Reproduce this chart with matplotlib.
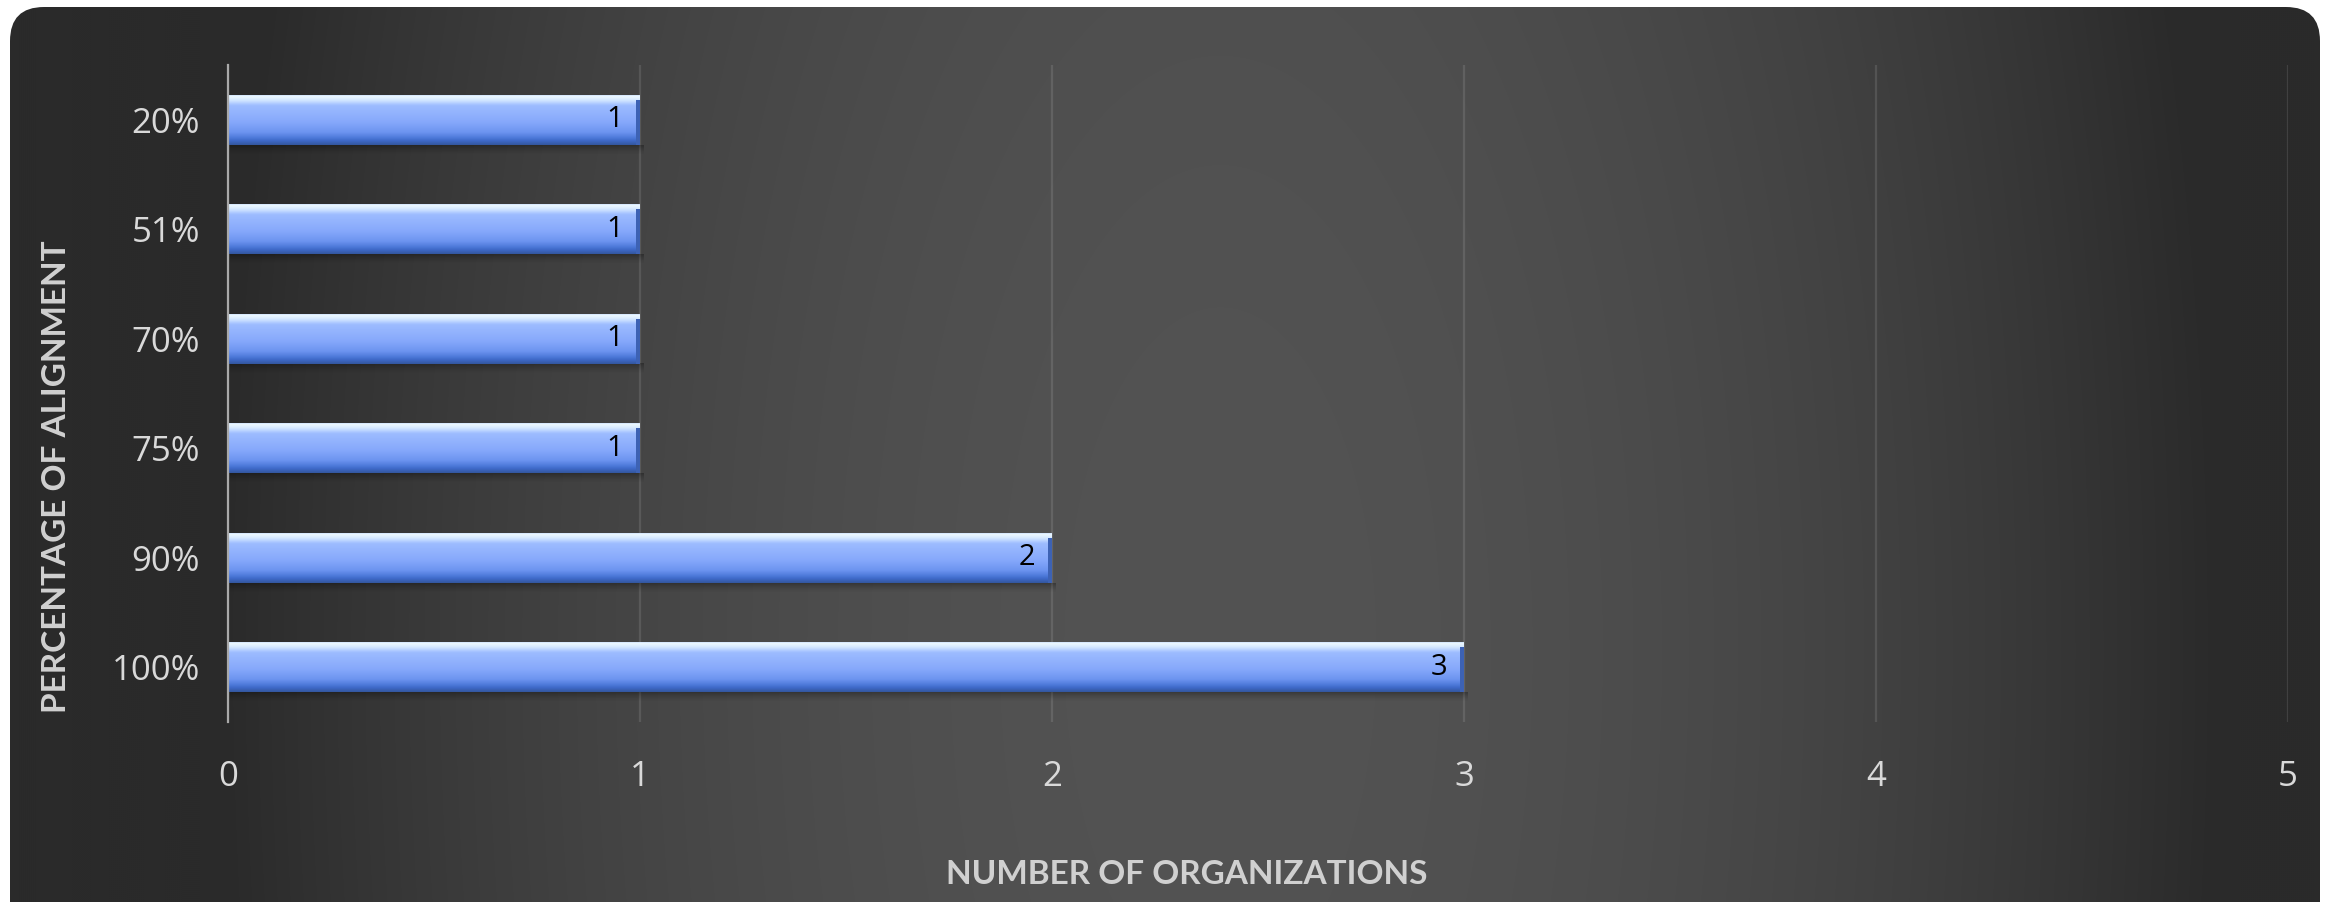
import numpy as np
import matplotlib
matplotlib.use("Agg")
import matplotlib.pyplot as plt
from matplotlib.patches import FancyBboxPatch, Rectangle
from matplotlib.colors import LinearSegmentedColormap

# ---- data ----
categories = ["20%", "51%", "70%", "75%", "90%", "100%"]
organizations = [1, 1, 1, 1, 2, 3]
x_ticks = [0, 1, 2, 3, 4, 5]
x_title = "NUMBER OF ORGANIZATIONS"
y_title = "PERCENTAGE OF ALIGNMENT"

W, H, DPI = 2333, 902, 100
fig = plt.figure(figsize=(W / DPI, H / DPI), dpi=DPI, facecolor="white")

# ---- dark rounded panel with a soft radial glow ----
bg = fig.add_axes([0, 0, 1, 1], zorder=0)
bg.set_xlim(0, W)
bg.set_ylim(H, 0)
bg.axis("off")
yy, xx = np.mgrid[0:H:2, 0:W:2]
r2 = ((xx - 1220) / 1000.0) ** 2 + ((yy - 650) / 2200.0) ** 2
t = np.clip(1 - r2, 0, 1)
v = (0x2a + (0x53 - 0x2a) * t) / 255.0
glow = np.dstack([v, v, v])
im = bg.imshow(glow, extent=(0, W, H, 0), interpolation="bilinear", aspect="auto")
panel = FancyBboxPatch((10, 7), 2310, 960, boxstyle="round,pad=0,rounding_size=34",
                       transform=bg.transData, facecolor="none", edgecolor="none")
bg.add_patch(panel)
im.set_clip_path(panel)

# ---- chart area ----
left, right, top, bottom = 228, 2288, 65, 722
ax = fig.add_axes([left / W, 1 - bottom / H, (right - left) / W, (bottom - top) / H], zorder=1)
ax.patch.set_alpha(0)

ypos = np.arange(len(categories))
bar_h = 0.46
bars = ax.barh(ypos, organizations, height=bar_h, color="#7ea2f4", edgecolor="none", zorder=3)

bar_cmap = LinearSegmentedColormap.from_list("bar", [
    (0.00, "#b9d2fb"),
    (0.04, "#eefaff"),
    (0.12, "#d2e6ff"),
    (0.22, "#9dbcff"),
    (0.55, "#86a8fb"),
    (0.75, "#6d94f0"),
    (0.86, "#4e7ada"),
    (0.92, "#3e69c8"),
    (1.00, "#34579f"),
])
col = bar_cmap(np.linspace(0, 1, 120))[:, None, :]

shadow = np.zeros((40, 1, 4))
shadow[:, 0, 3] = np.linspace(0.45, 0.0, 40) ** 1.5

px_per_x = (right - left) / 5.0
px_per_y = (bottom - top) / 6.0

for b, val in zip(bars, organizations):
    x0, y0, w, h = b.get_x(), b.get_y(), b.get_width(), b.get_height()
    g = ax.imshow(col, extent=(x0, x0 + w, y0 + h, y0), origin="upper",
                  aspect="auto", interpolation="bilinear", zorder=4)
    g.set_clip_path(b)
    # soft drop shadow under the bar
    ax.imshow(shadow, extent=(x0 + 2 / px_per_x, x0 + w + 4 / px_per_x,
                              y0 + h + 10 / px_per_y, y0 + h),
              origin="upper", aspect="auto", interpolation="bilinear", zorder=2)
    # darker bevel on the right end
    ax.add_patch(Rectangle((x0 + w - 4 / px_per_x, y0 + 5 / px_per_y), 4 / px_per_x,
                           h - 5 / px_per_y, facecolor="#3d62b4", edgecolor="none", zorder=5))
    ax.annotate(str(val), xy=(x0 + w, y0 + h / 2), xytext=(-12, 0),
                textcoords="offset points", ha="right", va="center",
                fontsize=21, color="black", family="Open Sans", zorder=6)

ax.set_yticks(ypos)
ax.set_yticklabels(categories)
ax.set_ylim(len(categories) - 0.5, -0.5)
ax.set_xlim(0, 5)
ax.set_xticks(x_ticks)
ax.set_xticklabels([str(x) for x in x_ticks])

ax.grid(axis="x", color="white", alpha=0.11, linewidth=1.6, zorder=1)
ax.grid(axis="y", visible=False)
ax.set_axisbelow(True)
for s in ["top", "right", "bottom"]:
    ax.spines[s].set_visible(False)
ax.spines["left"].set_color("#a9a9a9")
ax.spines["left"].set_linewidth(1.6)
ax.spines["left"].set_zorder(6)

ax.tick_params(axis="both", length=0, labelsize=25, labelcolor="#d9d9d9")
ax.tick_params(axis="x", pad=27)
ax.tick_params(axis="y", pad=20)
for lab in ax.get_xticklabels() + ax.get_yticklabels():
    lab.set_family("Open Sans")

fig.text(1187 / W, 1 - 875 / H, x_title, ha="center", va="center",
         fontsize=24, fontweight="bold", color="#d0d0d0", family="Lato")
fig.text(57 / W, 1 - 477 / H, y_title, ha="center", va="center", rotation=90,
         fontsize=24, fontweight="bold", color="#d0d0d0", family="Lato")

fig.savefig("out.png", dpi=DPI, facecolor="white")
